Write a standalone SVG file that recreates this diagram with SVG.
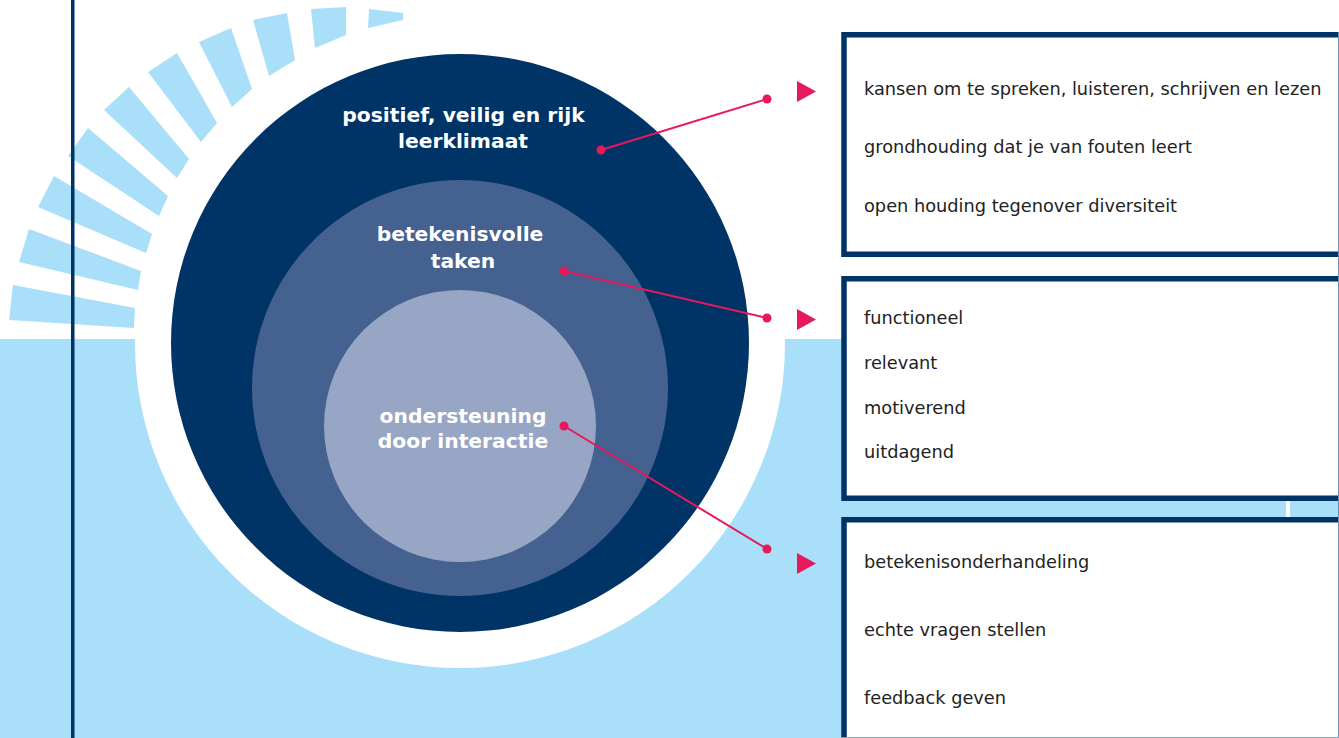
<svg xmlns="http://www.w3.org/2000/svg" width="1339" height="738" viewBox="0 0 1339 738">
<style>
.ray{fill:#aadff9}
.lbl{font-family:"DejaVu Sans",Verdana,sans-serif;font-weight:bold;font-size:20.3px;fill:#ffffff;text-anchor:middle}
.item{font-family:"DejaVu Sans",Verdana,sans-serif;font-size:17.75px;fill:#222222}
.box{fill:#ffffff;stroke:#003366;stroke-width:5.5}
.con{stroke:#e8185c;stroke-width:2;fill:none}
.dot{fill:#e8185c}
.arr{fill:#e8185c}
</style>
<rect x="0" y="0" width="1339" height="738" fill="#ffffff"/>
<rect x="0" y="339" width="1339" height="399" fill="#aadff9"/>
<circle cx="460" cy="343" r="325" fill="#ffffff"/>
<g id="rays">
<polygon class="ray" points="13,285 9,320 134,328 135,308"/>
<polygon class="ray" points="29,229 19,262 138,290 141,271"/>
<polygon class="ray" points="54,176 38,207 146,253 152,234"/>
<polygon class="ray" points="88,128 68,156 159,216 168,196"/>
<polygon class="ray" points="129,87 104,110 177,178 189,159"/>
<polygon class="ray" points="177,53 148,72 201,142 217,123"/>
<polygon class="ray" points="231,28 199,42 232,107 252,89"/>
<polygon class="ray" points="287,13 253,20 269,76 295,60"/>
<polygon class="ray" points="346,7 311,9 315,48 346,35"/>
<polygon class="ray" points="369,9 403,13 403,20 368,28"/>
</g>
<g id="circle-outer">
<circle cx="460" cy="343" r="289" fill="#003366"/>
<text class="lbl" x="463.5" y="122">positief, veilig en rijk</text>
<text class="lbl" x="463" y="148">leerklimaat</text>
</g>
<g id="circle-middle">
<circle cx="460" cy="388" r="208" fill="#44618f"/>
<text class="lbl" x="460" y="241">betekenisvolle</text>
<text class="lbl" x="463" y="268">taken</text>
</g>
<g id="circle-inner">
<circle cx="460" cy="426" r="136" fill="#97a6c5"/>
<text class="lbl" x="463" y="423">ondersteuning</text>
<text class="lbl" x="463" y="448">door interactie</text>
</g>
<g id="connectors">
<line class="con" x1="601" y1="150" x2="767" y2="99"/>
<circle class="dot" cx="601" cy="150" r="4.5"/>
<circle class="dot" cx="767" cy="99" r="4.5"/>
<line class="con" x1="564" y1="271" x2="767" y2="318"/>
<circle class="dot" cx="564" cy="271" r="4.5"/>
<circle class="dot" cx="767" cy="318" r="4.5"/>
<line class="con" x1="564" y1="426" x2="767" y2="549"/>
<circle class="dot" cx="564" cy="426" r="4.5"/>
<circle class="dot" cx="767" cy="549" r="4.5"/>
<polygon class="arr" points="797,81 816,91.5 797,102"/>
<polygon class="arr" points="797,309 816,319.5 797,330"/>
<polygon class="arr" points="797,553 816,563.5 797,574"/>
</g>
<g id="box1">
<rect class="box" x="844" y="34.75" width="520" height="219.5"/>
<text class="item" x="864" y="94.5">kansen om te spreken, luisteren, schrijven en lezen</text>
<text class="item" x="864" y="153">grondhouding dat je van fouten leert</text>
<text class="item" x="864" y="212">open houding tegenover diversiteit</text>
</g>
<g id="box2">
<rect class="box" x="844" y="278.75" width="520" height="219.5"/>
<text class="item" x="864" y="324">functioneel</text>
<text class="item" x="864" y="369">relevant</text>
<text class="item" x="864" y="414">motiverend</text>
<text class="item" x="864" y="458">uitdagend</text>
</g>
<g id="box3">
<rect class="box" x="844" y="519.75" width="520" height="240"/>
<text class="item" x="864" y="568">betekenisonderhandeling</text>
<text class="item" x="864" y="636">echte vragen stellen</text>
<text class="item" x="864" y="704">feedback geven</text>
</g>
<rect x="1286" y="501" width="4" height="16" fill="#ffffff"/>
<line x1="1338.5" y1="32" x2="1338.5" y2="738" stroke="#7090b8" stroke-width="1"/>
<line x1="841" y1="737.5" x2="1339" y2="737.5" stroke="#8aa2c0" stroke-width="1"/>
<rect x="71" y="0" width="3.5" height="738" fill="#003366"/>
</svg>
